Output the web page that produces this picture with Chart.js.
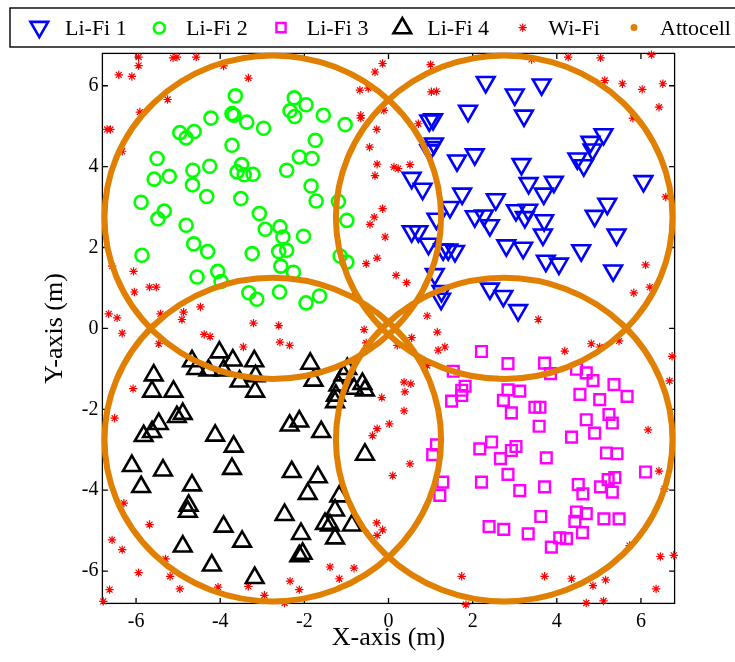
<!DOCTYPE html>
<html><head><meta charset="utf-8">
<script src="https://cdn.jsdelivr.net/npm/chart.js@4/dist/chart.umd.min.js"></script>
<style>html,body{margin:0;padding:0;background:#fff;overflow:hidden}canvas{display:block}</style>
</head><body>
<canvas id="c" width="735" height="662" style="width:735px;height:662px"></canvas>
<script>
// ---------- data ----------
const xTicks = [-6, -4, -2, 0, 2, 4, 6];
const yTicks = [-6, -4, -2, 0, 2, 4, 6];

const lifi1X = [2.31,3.64,3.00,1.89,3.22,0.97,1.06,1.08,1.02,0.97,2.05,1.63,5.11,4.80,4.85,4.49,4.64,3.16,0.55,0.81,3.33,3.93,6.06,3.69,1.75,2.55,1.46,5.20,3.03,3.32,3.24,2.05,2.27,2.41,1.14,3.70,4.90,5.42,3.67,0.55,0.71,0.95,2.80,3.20,1.30,1.42,1.58,4.58,3.74,4.05,5.34,1.10,1.26,1.25,2.41,2.73,3.08];
const lifi1Y = [6.09,6.03,5.78,5.38,5.26,5.14,5.17,4.57,4.48,4.40,4.30,4.15,4.80,4.61,4.42,4.20,4.03,4.06,3.72,3.45,3.59,3.62,3.64,3.33,3.33,3.19,3.00,3.08,2.92,2.93,2.75,2.77,2.79,2.55,2.71,2.67,2.78,2.32,2.32,2.40,2.40,2.09,2.05,1.99,1.95,1.95,1.91,1.93,1.67,1.60,1.43,1.34,0.92,0.73,0.98,0.80,0.45];

const lifi2X = [-3.64,-2.24,-1.96,-2.34,-2.23,-1.55,-1.03,-4.22,-3.72,-3.67,-3.37,-2.97,-4.96,-4.81,-4.62,-3.72,-1.74,-5.50,-2.12,-1.82,-5.57,-5.21,-4.65,-4.25,-3.49,-3.60,-3.43,-3.22,-2.42,-4.66,-1.84,-5.88,-4.32,-3.51,-1.72,-1.19,-5.33,-5.48,-3.07,-0.99,-4.81,-2.93,-2.58,-2.51,-2.02,-4.63,-4.30,-3.24,-2.61,-2.42,-5.86,-1.15,-0.99,-2.56,-2.26,-4.06,-3.98,-4.55,-3.32,-3.13,-2.59,-1.96,-1.64];
const lifi2Y = [5.75,5.70,5.53,5.38,5.24,5.27,5.04,5.20,5.31,5.27,5.10,4.95,4.84,4.71,4.87,4.53,4.65,4.20,4.24,4.20,3.69,3.76,3.91,4.01,4.05,3.87,3.80,3.81,3.91,3.55,3.52,3.12,3.26,3.21,3.15,3.14,2.90,2.71,2.84,2.67,2.55,2.45,2.51,2.26,2.28,2.09,1.90,1.85,1.90,1.93,1.81,1.79,1.64,1.54,1.39,1.41,1.16,1.27,0.88,0.72,0.90,0.63,0.80];

const lifi3X = [2.21,2.84,3.71,1.54,3.85,4.47,4.70,4.86,5.36,5.67,4.55,5.02,1.82,1.74,1.74,1.50,2.84,3.12,2.73,2.92,3.48,3.60,3.58,4.70,5.24,5.32,4.90,4.35,1.14,1.05,2.17,2.45,3.03,2.92,2.66,3.75,2.84,2.21,3.12,3.71,1.29,1.22,5.18,5.43,6.11,5.22,5.38,5.04,5.32,4.51,4.62,3.62,4.47,4.70,4.43,5.12,5.48,2.39,2.74,3.32,4.07,4.23,3.87,4.61];
const lifi3Y = [-0.57,-0.87,-0.86,-1.06,-1.12,-1.01,-1.10,-1.29,-1.39,-1.68,-1.63,-1.76,-1.43,-1.53,-1.66,-1.80,-1.52,-1.55,-1.78,-2.09,-1.95,-1.95,-2.42,-2.26,-2.13,-2.34,-2.59,-2.69,-2.88,-3.12,-2.98,-2.81,-2.92,-3.02,-3.22,-3.20,-3.61,-3.80,-4.01,-3.92,-3.80,-4.13,-3.08,-3.10,-3.55,-3.74,-3.69,-3.92,-4.05,-3.86,-4.09,-4.65,-4.54,-4.58,-4.77,-4.71,-4.71,-4.90,-4.97,-5.08,-5.18,-5.20,-5.41,-5.05];

const lifi4X = [-4.02,-3.70,-3.19,-4.67,-4.57,-4.28,-3.92,-3.54,-3.16,-3.17,-1.86,-1.78,-0.98,-1.07,-1.19,-1.25,-1.27,-0.82,-0.62,-0.56,-5.58,-5.62,-5.11,-4.89,-5.03,-5.46,-5.62,-5.82,-4.12,-3.68,-2.35,-2.12,-1.60,-0.56,-6.10,-5.36,-3.72,-2.30,-1.68,-5.88,-4.67,-1.92,-1.17,-4.75,-4.77,-1.27,-2.47,-1.51,-1.39,-0.87,-3.92,-2.08,-1.27,-3.48,-4.89,-2.04,-2.12,-4.20,-3.18];
const lifi4Y = [-0.59,-0.79,-0.81,-0.81,-1.00,-1.04,-1.04,-1.31,-1.18,-1.56,-0.87,-1.29,-1.00,-1.16,-1.41,-1.66,-1.82,-1.49,-1.37,-1.53,-1.16,-1.56,-1.56,-2.11,-2.19,-2.36,-2.56,-2.66,-2.65,-2.92,-2.40,-2.30,-2.56,-3.12,-3.40,-3.51,-3.47,-3.55,-3.68,-3.92,-3.88,-4.09,-4.15,-4.38,-4.53,-4.50,-4.61,-4.83,-4.87,-4.87,-4.90,-5.08,-5.19,-5.27,-5.39,-5.57,-5.63,-5.86,-6.17];

const wifiX = [-5.94,-5.94,-5.12,-5.03,-4.57,-3.92,-6.41,-6.10,-3.33,-5.25,-0.68,-0.48,-0.32,-6.69,-6.61,-6.33,-5.91,-0.66,-0.66,-0.28,-0.45,-0.27,-0.32,-0.34,-0.44,-0.27,-0.53,-6.57,-6.06,-6.04,-5.68,-5.52,-6.65,-6.45,-5.42,-4.87,-4.91,-4.47,-0.80,
  -0.14,1.00,3.40,4.27,5.04,6.25,5.14,5.56,6.03,6.52,6.43,5.81,-0.11,0.71,1.02,1.14,0.13,0.23,0.51,-0.14,-0.08,6.59,6.11,5.83,6.21,0.18,0.43,0.92,3.56,
  -3.21,-2.61,-6.33,-4.38,-4.24,-2.58,-2.35,-3.45,-0.58,-0.53,-5.46,-6.07,-6.51,-6.29,-5.68,-6.57,-6.33,-5.30,-5.19,-5.94,-6.63,-4.96,-4.05,-3.33,-2.95,-2.34,-2.12,-1.39,-1.17,-0.82,-6.78,-2.47,-0.27,-0.38,-0.28,-0.27,
  1.16,0.55,0.21,1.18,1.34,0.92,4.19,4.82,5.02,5.48,6.74,6.68,-0.16,0.02,0.37,0.53,0.39,0.37,0.51,0.10,-0.14,6.17,6.43,6.56,1.74,3.71,4.35,4.86,5.16,4.70,5.11,1.84,6.36,6.46,6.78,5.73];
const wifiY = [6.71,6.50,6.69,6.71,6.71,6.49,6.27,6.23,6.19,5.66,5.89,5.94,6.34,4.92,4.92,4.38,5.35,5.27,5.20,4.92,4.48,4.06,3.78,2.75,2.57,1.74,1.60,1.54,1.41,0.90,1.02,1.02,0.36,0.26,0.36,0.40,0.22,0.53,0.80,
  6.55,6.52,6.65,6.71,6.69,6.77,6.13,6.05,5.91,6.05,5.47,5.20,5.39,5.06,5.85,5.86,3.99,3.95,4.05,2.96,2.26,3.25,1.57,0.88,1.02,1.31,1.13,0.31,0.22,
  0.13,0.07,-0.12,-0.15,-0.20,-0.34,-0.42,-0.46,-0.03,-0.36,-0.38,-1.49,-2.22,-4.32,-4.85,-5.23,-5.47,-5.70,-6.13,-6.04,-6.46,-6.44,-6.40,-6.38,-6.60,-6.25,-6.46,-5.90,-6.19,-5.93,-6.75,-6.79,-2.48,-2.65,-4.81,-5.12,
  -0.09,-0.23,-0.42,-0.54,-0.46,-0.92,-0.56,-0.38,-0.46,-0.31,-0.69,-1.30,-1.71,-2.36,-1.33,-1.37,-1.57,-2.04,-3.35,-3.64,-4.98,-2.51,-3.53,-3.97,-6.13,-6.13,-6.19,-6.36,-6.22,-6.79,-6.74,-6.83,-6.44,-5.64,-5.61,-5.37];

const attoX = [-2.75, 2.75, -2.75, 2.75];
const attoY = [2.75, 2.75, -2.75, -2.75];
const attoR = [4, 4, 4, 4];

const seriesNames = ['Li-Fi 1', 'Li-Fi 2', 'Li-Fi 3', 'Li-Fi 4', 'Wi-Fi', 'Attocell'];

// ---------- chart ----------
const FONT = '"Liberation Serif", "Times New Roman", serif';
const pts = (xs, ys) => xs.map((x, i) => ({ x: x, y: ys[i] }));
const ORANGE = '#E07F00';

function ds(label, xs, ys, style) {
  return Object.assign({
    label: label, data: pts(xs, ys), clip: false, showLine: false,
    pointBackgroundColor: 'rgba(0,0,0,0)', backgroundColor: 'rgba(0,0,0,0)'
  }, style);
}

const datasets = [
  ds(seriesNames[0], lifi1X, lifi1Y, { pointStyle: 'triangle', pointRotation: 180, pointRadius: 10.2, pointBorderWidth: 2.6, pointBorderColor: '#0000FF', borderColor: '#0000FF' }),
  ds(seriesNames[1], lifi2X, lifi2Y, { pointStyle: 'circle', pointRadius: 6.5, pointBorderWidth: 2.6, pointBorderColor: '#00FF00', borderColor: '#00FF00' }),
  ds(seriesNames[2], lifi3X, lifi3Y, { pointStyle: 'rect', pointRadius: 7.6, pointBorderWidth: 2.4, pointBorderColor: '#FF00FF', borderColor: '#FF00FF' }),
  ds(seriesNames[3], lifi4X, lifi4Y, { pointStyle: 'triangle', pointRotation: 0, pointRadius: 10.2, pointBorderWidth: 2.6, pointBorderColor: '#000000', borderColor: '#000000' }),
  ds(seriesNames[4], wifiX, wifiY, { pointStyle: 'star', pointRadius: 4.2, pointBorderWidth: 1.2, pointBorderColor: '#FF0000', borderColor: '#FF0000' })
];

const AREA = { left: 102.4, right: 674.6, top: 53.4, bottom: 603.4 };

const framePlugin = {
  id: 'frame',
  beforeDatasetsDraw(chart) {
    const { ctx, chartArea: a, scales: { x, y } } = chart;
    ctx.save();
    ctx.strokeStyle = '#000';
    ctx.lineWidth = 1.3;
    ctx.strokeRect(a.left, a.top, a.right - a.left, a.bottom - a.top);
    const tl = 5.5;
    ctx.beginPath();
    xTicks.forEach(v => {
      const px = x.getPixelForValue(v);
      ctx.moveTo(px, a.bottom); ctx.lineTo(px, a.bottom - tl);
      ctx.moveTo(px, a.top); ctx.lineTo(px, a.top + tl);
    });
    yTicks.forEach(v => {
      const py = y.getPixelForValue(v);
      ctx.moveTo(a.left, py); ctx.lineTo(a.left + tl, py);
      ctx.moveTo(a.right, py); ctx.lineTo(a.right - tl, py);
    });
    ctx.stroke();
    ctx.restore();
  },
  afterDatasetsDraw(chart) {
    const { ctx, scales: { x, y } } = chart;
    ctx.save();
    ctx.strokeStyle = ORANGE;
    ctx.lineWidth = 6;
    attoX.forEach((cx, i) => {
      const px = x.getPixelForValue(cx), py = y.getPixelForValue(attoY[i]);
      const rx = Math.abs(x.getPixelForValue(cx + attoR[i]) - px);
      const ry = Math.abs(y.getPixelForValue(attoY[i] + attoR[i]) - py);
      ctx.beginPath();
      ctx.ellipse(px, py, rx, ry, 0, 0, Math.PI * 2);
      ctx.stroke();
    });
    ctx.restore();
  },
  afterDraw(chart) {
    const ctx = chart.ctx;
    ctx.save();
    ctx.lineWidth = 1.4;
    ctx.strokeStyle = '#000';
    ctx.strokeRect(10, 8, 740, 39);
    const mx = [39.3, 159.3, 281, 402.3, 522.7, 634];
    const my = [27, 28, 27.6, 28.2, 27.6, 27.6];
    const tx = [65, 186, 306.7, 427.3, 548.3, 660];
    ctx.font = '22px ' + FONT;
    ctx.textBaseline = 'alphabetic';
    ctx.textAlign = 'left';
    seriesNames.forEach((name, i) => {
      const d = chart.data.datasets[i];
      if (d) {
        ctx.strokeStyle = d.pointBorderColor;
        ctx.fillStyle = 'rgba(0,0,0,0)';
        ctx.lineWidth = d.pointBorderWidth;
        const r = d.pointStyle === 'circle' ? 5.5 : (d.pointStyle === 'rect' ? 6.5 : d.pointRadius);
        Chart.helpers.drawPoint(ctx, { pointStyle: d.pointStyle, rotation: d.pointRotation || 0, radius: r, borderWidth: d.pointBorderWidth }, mx[i], my[i]);
      } else {
        ctx.fillStyle = ORANGE;
        ctx.beginPath();
        ctx.arc(mx[i], my[i], 3.5, 0, Math.PI * 2);
        ctx.fill();
      }
      ctx.fillStyle = '#000';
      ctx.fillText(name, tx[i], 35);
    });
    ctx.restore();
  }
};

new Chart(document.getElementById('c').getContext('2d'), {
  type: 'scatter',
  data: { datasets: datasets },
  options: {
    responsive: false,
    animation: false,
    events: [],
    layout: { padding: { top: AREA.top, right: 735 - AREA.right, bottom: 0, left: 0 } },
    plugins: { legend: { display: false }, tooltip: { enabled: false } },
    scales: {
      x: {
        type: 'linear', min: -6.8, max: 6.8,
        afterBuildTicks: s => { s.ticks = xTicks.map(v => ({ value: v })); },
        afterFit: s => { s.height = 662 - AREA.bottom; },
        grid: { display: false, drawTicks: false },
        border: { display: false },
        ticks: { font: { family: FONT, size: 20 }, color: '#000', padding: 6, maxRotation: 0, autoSkip: false },
        title: { display: true, text: 'X-axis (m)', font: { family: FONT, size: 26 }, color: '#000', padding: { top: 0, bottom: 8 } }
      },
      y: {
        type: 'linear', min: -6.8, max: 6.8,
        afterBuildTicks: s => { s.ticks = yTicks.map(v => ({ value: v })); },
        afterFit: s => { s.width = AREA.left; },
        grid: { display: false, drawTicks: false },
        border: { display: false },
        ticks: { font: { family: FONT, size: 20 }, color: '#000', padding: 4, autoSkip: false },
        title: { display: true, text: 'Y-axis (m)', font: { family: FONT, size: 26 }, color: '#000', padding: { top: 40, bottom: 0 } }
      }
    }
  },
  plugins: [framePlugin]
});
</script>
</body></html>
